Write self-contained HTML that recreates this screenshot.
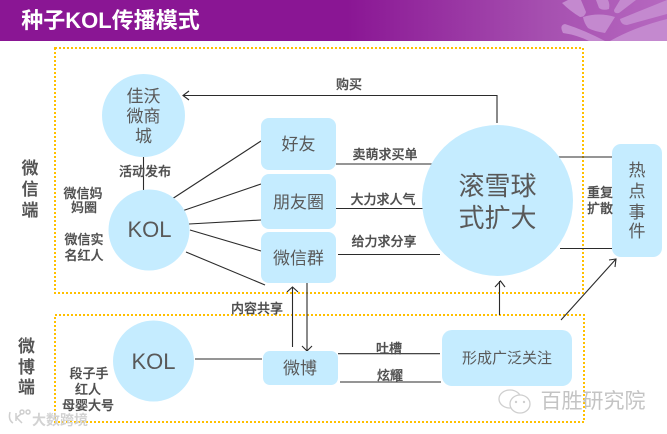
<!DOCTYPE html>
<html lang="zh">
<head>
<meta charset="utf-8">
<style>
html,body{margin:0;padding:0;background:#fff;}
#s{display:block;width:667px;height:434px;}
text{font-family:"Liberation Sans","Noto Sans CJK SC",sans-serif;fill:#595959;text-anchor:middle;}
.l{font-size:13px;font-weight:500;}
.l text{fill:#4f4f4f;stroke:#4f4f4f;stroke-width:.25;}
.n{font-size:17px;}
.ln{stroke:#2b2b2b;stroke-width:1.1;fill:none;}
.bx{fill:#c5ecff;}
.dot{fill:none;stroke:#ffc000;stroke-width:2;stroke-dasharray:2 2;}
.side text{font-size:17px;font-weight:700;fill:#555;}
</style>
</head>
<body>
<svg id="s" xmlns="http://www.w3.org/2000/svg" width="667" height="434" viewBox="0 0 667 434">
<defs>
<linearGradient id="g" x1="0" x2="1" y1="0" y2="0">
<stop offset="0" stop-color="#8a1694"/>
<stop offset="0.52" stop-color="#8a1694"/>
<stop offset="0.82" stop-color="#a650b0"/>
<stop offset="1" stop-color="#b668c0"/>
</linearGradient>
<clipPath id="hc"><rect width="667" height="41"/></clipPath>
</defs>
<rect width="667" height="41" fill="url(#g)"/>
<g clip-path="url(#hc)" fill="#c489cf">
<path d="M563 33q-4-8 2-9q19 6 40 17h-16q-12-6-26-8z"/>
<path d="M583 17q16-5 32 0q-5 8-10 16q-12-2-17-5q-4-5-5-11z"/>
<path d="M562 3l6-3h13l5 12q-1 5-6 5q-10-6-18-14z"/>
<path d="M596 0h12q2 4 1 9q-6 2-10-1z"/>
<path d="M620 0h16l-17 13q-5 1-5-3z"/>
<path d="M620 19l47-19v14l-40 11q-6 0-7-6z"/>
<path d="M610 41q25-14 57-22v22z"/>
</g>
<text x="110.500" y="28" style="font-size:22px;font-weight:700;fill:#fff">种子KOL传播模式</text>

<rect class="dot" x="55" y="48" width="528" height="245"/>
<rect class="dot" x="55" y="315" width="529" height="107"/>

<!-- connectors -->
<g class="ln">
<path d="M497 123V95.500H183"/>
<path d="M189 91L183 95.500L189 100"/>
<path d="M143.500 157V192"/>
<path d="M172 199L261 141"/>
<path d="M182 211L261 184"/>
<path d="M189 224L261 220"/>
<path d="M190 230L261 251"/>
<path d="M186 252L265 285"/>
<path d="M292.500 347V287"/>
<path d="M287 292L292.500 287L298 292"/>
<path d="M307 283V351"/>
<path d="M302 346L307 351L312 346"/>
<path d="M195 359H262"/>
<path d="M336 164H436"/>
<path d="M336 208.500H437"/>
<path d="M338 254.500H440"/>
<path d="M338 353.700H440"/>
<path d="M340 382H441"/>
<path d="M557 157H612"/>
<path d="M560 248.500H612"/>
<path d="M499.500 315V281"/>
<path d="M495 287L500.500 281L505 287"/>
<path d="M561 320L616 259"/>
<path d="M609 260L616 259L615 267"/>
</g>

<!-- nodes -->
<circle class="bx" cx="143.500" cy="115.500" r="41.500"/>
<circle class="bx" cx="149" cy="230" r="40.500"/>
<circle class="bx" cx="153.500" cy="361" r="40.500"/>
<circle class="bx" cx="497.500" cy="200.500" r="75.500"/>
<rect class="bx" x="261" y="118" width="75" height="52" rx="8"/>
<rect class="bx" x="261" y="174" width="75" height="55" rx="8"/>
<rect class="bx" x="261" y="232" width="75" height="51" rx="8"/>
<rect class="bx" x="263" y="351" width="75" height="34" rx="7"/>
<rect class="bx" x="442" y="330" width="130" height="56" rx="10"/>
<rect class="bx" x="612" y="144" width="50" height="113" rx="9"/>

<!-- node labels -->
<g class="n">
<text x="143.500" y="102">佳沃</text>
<text x="143.500" y="122">微商</text>
<text x="143.500" y="142">城</text>
<text x="298.500" y="150">好友</text>
<text x="298.500" y="208">朋友圈</text>
<text x="298.500" y="264">微信群</text>
<text x="300" y="374">微博</text>
<text x="637" y="176">热</text>
<text x="637" y="197">点</text>
<text x="637" y="218">事</text>
<text x="637" y="237">件</text>
</g>
<text x="149.500" y="237" style="font-size:22px">KOL</text>
<text x="153.500" y="369" style="font-size:22px">KOL</text>
<text x="497.500" y="195" style="font-size:26px">滚雪球</text>
<text x="497.500" y="227" style="font-size:26px">式扩大</text>
<text x="507" y="363" style="font-size:15px">形成广泛关注</text>

<!-- edge labels -->
<g class="l">
<text x="349" y="89">购买</text>
<text x="145" y="176">活动发布</text>
<text x="83" y="198">微信妈</text>
<text x="84" y="212">妈圈</text>
<text x="84" y="244">微信实</text>
<text x="84" y="260">名红人</text>
<text x="385" y="159">卖萌求买单</text>
<text x="383" y="204">大力求人气</text>
<text x="384" y="246">给力求分享</text>
<text x="257" y="313">内容共享</text>
<text x="389" y="353">吐槽</text>
<text x="390" y="380">炫耀</text>
<text x="600" y="197">重复</text>
<text x="600" y="213">扩散</text>
<text x="89" y="378">段子手</text>
<text x="88" y="394">红人</text>
<text x="88" y="410">母婴大号</text>
</g>
<g class="side">
<text x="30" y="174">微</text>
<text x="30" y="195">信</text>
<text x="30" y="216">端</text>
<text x="26.500" y="352">微</text>
<text x="26.500" y="373">博</text>
<text x="26.500" y="393">端</text>
</g>

<!-- watermarks -->
<g fill="none" stroke="#cfcfcf" stroke-width="1.500">
<path d="M10 412q-2 8 3 11"/>
<path d="M16 413v8M16 418l5-4M17 418l5 5"/>
<circle cx="22" cy="412" r="2"/><circle cx="28" cy="412" r="2"/>
</g>
<text x="60" y="425" style="font-size:14px;fill:#d2d2d2;font-weight:700">大数跨境</text>
<g fill="#fff" stroke="#cfcfcf" stroke-width="1.300">
<ellipse cx="510" cy="399" rx="11" ry="9"/>
<ellipse cx="520" cy="404" rx="10" ry="9"/>
</g>
<g fill="#cfcfcf">
<circle cx="516" cy="402" r="1.200"/><circle cx="524" cy="402" r="1.200"/>
</g>
<text x="593" y="408" style="font-size:21px;fill:#c4c4c4">百胜研究院</text>
</svg>
</body>
</html>
